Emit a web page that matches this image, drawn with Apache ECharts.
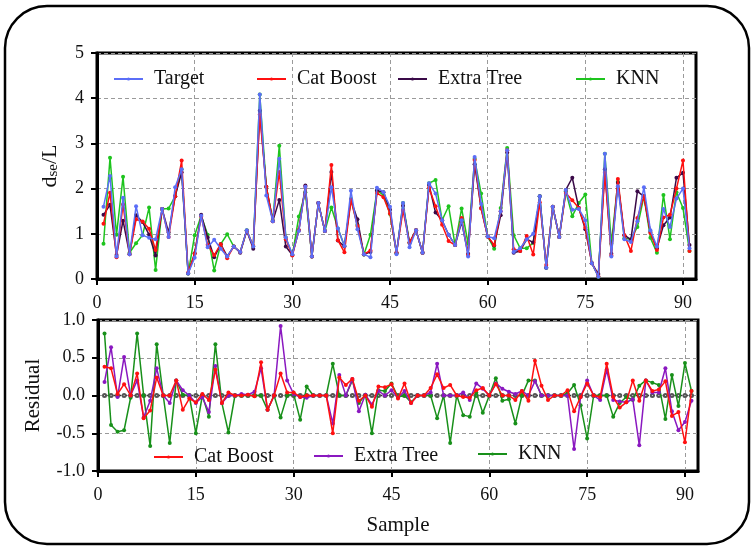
<!DOCTYPE html>
<html><head><meta charset="utf-8">
<script src="https://cdn.jsdelivr.net/npm/echarts@6/dist/echarts.min.js"></script>
<style>html,body{margin:0;padding:0;background:#fff}#c{width:751px;height:547px}</style>
</head><body><div id="c"></div>
<script>
const samples = [1,2,3,4,5,6,7,8,9,10,11,12,13,14,15,16,17,18,19,20,21,22,23,24,25,26,27,28,29,30,31,32,33,34,35,36,37,38,39,40,41,42,43,44,45,46,47,48,49,50,51,52,53,54,55,56,57,58,59,60,61,62,63,64,65,66,67,68,69,70,71,72,73,74,75,76,77,78,79,80,81,82,83,84,85,86,87,88,89,90,91];
const xTicks = [0,15,30,45,60,75,90];
const target = [1.60,2.28,0.50,1.80,0.55,1.61,0.97,0.91,0.88,1.55,0.93,2.03,2.43,0.12,0.47,1.40,0.70,0.87,0.67,0.50,0.72,0.60,1.08,0.72,4.08,1.85,1.28,2.66,0.92,0.55,1.06,2.04,0.50,1.68,1.06,2.03,1.12,0.73,1.95,1.10,0.55,0.48,2.02,1.92,1.60,0.55,1.68,0.70,1.08,0.58,2.12,1.89,1.30,0.98,0.75,1.30,0.50,2.70,1.66,0.94,0.90,1.50,2.85,0.60,0.68,0.88,1.00,1.83,0.25,1.60,0.93,1.97,1.53,1.55,1.30,0.35,0.05,2.77,0.50,2.05,0.88,0.82,1.28,2.03,1.08,0.72,1.55,1.15,1.78,2.00,0.68];
const catBoost = [1.22,1.91,0.48,1.65,0.55,1.32,1.27,1.11,0.64,1.55,0.93,1.83,2.62,0.14,0.56,1.38,0.76,0.53,0.77,0.46,0.72,0.60,1.07,0.73,3.64,2.04,1.28,2.37,0.88,0.52,1.08,2.04,0.50,1.68,1.06,2.52,0.86,0.59,1.75,1.17,0.55,0.63,1.90,1.81,1.45,0.58,1.52,0.80,1.08,0.58,2.02,1.61,1.20,0.84,0.75,1.35,0.53,2.63,1.56,0.94,0.75,1.50,2.85,0.66,0.62,0.95,0.54,1.70,0.31,1.60,0.93,1.90,1.74,1.57,1.14,0.35,0.06,2.35,0.52,2.21,0.97,0.62,1.35,1.83,1.02,0.64,1.36,1.42,2.00,2.62,0.62];
const extraTree = [1.42,1.64,0.53,1.29,0.55,1.41,1.26,0.98,0.52,1.55,1.03,1.83,2.36,0.12,0.57,1.42,0.92,0.48,0.77,0.50,0.72,0.58,1.07,0.67,3.72,2.04,1.28,1.75,0.72,0.53,1.08,2.07,0.50,1.68,1.06,2.37,0.85,0.72,1.75,1.32,0.54,0.60,1.96,1.92,1.53,0.58,1.62,0.80,1.08,0.58,2.08,1.47,1.30,0.98,0.75,1.26,0.56,2.54,1.57,0.94,0.74,1.41,2.80,0.58,0.62,0.88,0.81,1.83,0.25,1.60,0.93,1.97,2.24,1.57,1.10,0.35,0.11,2.43,0.56,2.13,0.97,0.87,1.94,1.83,1.04,0.68,1.19,1.36,2.24,2.35,0.75];
const knn = [0.78,2.68,0.98,2.26,0.58,0.79,0.97,1.58,0.20,1.55,1.56,1.83,2.43,0.12,0.97,1.40,0.98,0.19,0.77,0.99,0.72,0.60,1.08,0.72,4.08,2.04,1.30,2.95,0.92,0.53,1.38,1.92,0.50,1.68,1.06,1.58,1.12,0.73,1.77,1.20,0.54,0.98,1.95,1.86,1.44,0.57,1.68,0.80,1.08,0.58,2.12,2.19,1.30,1.61,0.75,1.56,0.78,2.66,1.89,0.94,0.67,1.57,2.90,0.97,0.68,0.68,0.80,1.83,0.25,1.60,0.93,1.94,1.39,1.68,1.87,0.35,0.05,2.77,0.78,2.15,0.90,0.88,1.15,1.83,0.91,0.58,1.86,0.88,1.92,1.57,0.62];
const resCat = [0.38,0.36,0.02,0.15,0.00,0.29,-0.30,-0.20,0.24,0.00,0.00,0.20,-0.19,-0.04,-0.09,0.02,-0.06,0.34,-0.10,0.04,0.00,0.00,0.01,-0.01,0.44,-0.19,0.00,0.29,0.04,0.04,-0.02,0.00,0.00,0.00,0.00,-0.50,0.24,0.14,0.22,-0.07,0.00,-0.15,0.12,0.11,0.15,-0.04,0.16,-0.10,0.00,0.00,0.10,0.28,0.10,0.14,0.00,-0.02,-0.03,0.07,0.10,0.00,0.15,0.00,0.00,-0.06,0.06,-0.07,0.46,0.13,-0.06,0.00,0.00,0.07,-0.21,-0.02,0.16,0.00,-0.02,0.42,-0.02,-0.16,-0.09,0.20,-0.07,0.20,0.06,0.08,0.19,-0.27,-0.22,-0.62,0.06];
const resExtra = [0.18,0.64,-0.02,0.51,0.00,0.20,-0.29,-0.07,0.36,0.00,-0.10,0.20,0.07,0.00,-0.10,-0.02,-0.22,0.39,-0.10,0.00,0.00,0.02,0.01,0.05,0.36,-0.19,0.00,0.92,0.20,0.02,-0.02,-0.03,0.00,0.00,0.00,-0.37,0.27,0.00,0.22,-0.21,0.01,-0.12,0.06,0.00,0.07,-0.03,0.06,-0.10,0.00,0.00,0.04,0.42,0.00,0.00,0.00,0.04,-0.06,0.16,0.09,0.00,0.16,0.09,0.05,0.02,0.06,0.00,0.19,0.00,0.00,0.00,0.00,0.00,-0.71,-0.02,0.20,0.00,-0.06,0.34,-0.06,-0.08,-0.09,-0.05,-0.66,0.20,0.04,0.04,0.36,-0.21,-0.46,-0.35,-0.07];
const resKnn = [0.82,-0.39,-0.48,-0.46,-0.03,0.82,0.00,-0.67,0.68,0.00,-0.63,0.20,0.01,0.00,-0.50,0.00,-0.28,0.68,-0.10,-0.49,0.00,0.00,0.00,0.00,0.00,-0.19,0.00,-0.29,0.00,0.02,-0.32,0.12,0.00,0.00,0.00,0.42,0.00,0.00,0.20,-0.10,0.01,-0.50,0.07,0.06,0.16,-0.02,0.00,-0.09,0.00,0.00,0.00,-0.30,0.00,-0.63,0.00,-0.26,-0.28,0.04,-0.23,0.00,0.23,-0.07,-0.05,-0.37,0.00,0.20,0.20,0.00,0.00,0.00,0.00,0.03,0.14,-0.13,-0.57,0.00,0.00,0.00,-0.28,-0.10,-0.02,-0.06,0.13,0.20,0.17,0.14,-0.31,0.27,-0.14,0.43,0.06];
const zeroRef = [0,0,0,0,0,0,0,0,0,0,0,0,0,0,0,0,0,0,0,0,0,0,0,0,0,0,0,0,0,0,0,0,0,0,0,0,0,0,0,0,0,0,0,0,0,0,0,0,0,0,0,0,0,0,0,0,0,0,0,0,0,0,0,0,0,0,0,0,0,0,0,0,0,0,0,0,0,0,0,0,0,0,0,0,0,0,0,0,0,0,0];

const pairs = vals => samples.map((s, i) => [s, vals[i]]);
const FONT = 'Liberation Serif';
const C = {target:'#5b6ef7', cat:'#ff1010', extra:'#3a0a48', knn:'#1ec41e', extra2:'#8a18c0', knn2:'#18901a'};
const legendNames = {t:'Target', c:'Cat Boost', e:'Extra Tree', k:'KNN', rc:'Cat Boost', re:'Extra Tree', rk:'KNN'};

function lineSeries(id, data, color, xi, z) {
  return {name:id, type:'line', xAxisIndex:xi, yAxisIndex:xi, data:pairs(data), symbol:'circle', symbolSize:4,
    lineStyle:{color:color, width:1.5}, itemStyle:{color:color}, z:z, emphasis:{disabled:true}};
}
function legendAt(id, left, top) {
  return {data:[id], left:left, top:top, itemWidth:29, itemHeight:4, selectedMode:false,
    formatter: n => legendNames[n], textStyle:{fontFamily:FONT, fontSize:20, color:'#111', padding:[0,0,0,6]}};
}
const axisCommon = {
  axisLine:{show:true, onZero:false, lineStyle:{color:'#000', width:3}},
  axisTick:{show:true, inside:false, length:6, lineStyle:{color:'#000', width:2}},
  axisLabel:{fontFamily:FONT, fontSize:18, color:'#111', margin:13},
  splitLine:{show:true, lineStyle:{color:'#9a9a9a', type:[4,3], width:1}}
};
function xAx(gi) {
  return Object.assign({}, axisCommon, {type:'value', gridIndex:gi, min:0, max:92, interval:15,
    axisTick:Object.assign({}, axisCommon.axisTick, {customValues:xTicks}),
    axisLabel:Object.assign({}, axisCommon.axisLabel, {customValues:xTicks, margin:gi === 0 ? 15 : 15}),
    name: gi === 1 ? 'Sample' : '', nameLocation:'middle', nameGap:44,
    nameTextStyle:{fontFamily:FONT, fontSize:21, color:'#111'}});
}
const chart = echarts.init(document.getElementById('c'), null, {renderer:'canvas'});
chart.setOption({
  animation:false,
  backgroundColor:'#fff',
  graphic:[{type:'rect', shape:{x:5, y:6, width:744, height:538, r:42}, style:{fill:'none', stroke:'#000', lineWidth:2.5}, z:-10}],
  grid:[
    {left:97, top:53, width:599, height:226, show:true, borderColor:'#000', borderWidth:3, backgroundColor:'transparent'},
    {left:98, top:320, width:600, height:151, show:true, borderColor:'#000', borderWidth:3, backgroundColor:'transparent'}
  ],
  xAxis:[xAx(0), xAx(1)],
  yAxis:[
    Object.assign({}, axisCommon, {type:'value', gridIndex:0, min:0, max:5, interval:1,
      name:'d{s|se}/L', nameLocation:'middle', nameGap:36, nameRotate:90,
      nameTextStyle:{fontFamily:FONT, fontSize:22, color:'#111', rich:{s:{fontFamily:FONT, fontSize:15, color:'#111', verticalAlign:'bottom', padding:[0,0,0,0]}}}}),
    Object.assign({}, axisCommon, {type:'value', gridIndex:1, min:-1, max:1, interval:0.5,
      axisLabel:Object.assign({}, axisCommon.axisLabel, {formatter: v => v.toFixed(1)}),
      name:'Residual', nameLocation:'middle', nameGap:54, nameRotate:90,
      nameTextStyle:{fontFamily:FONT, fontSize:21, color:'#111'}})
  ],
  legend:[
    legendAt('t', 108, 64), legendAt('c', 251, 64), legendAt('e', 392, 64), legendAt('k', 570, 64),
    legendAt('rc', 148, 442), legendAt('re', 308, 441), legendAt('rk', 472, 439)
  ],
  series:[
    lineSeries('k', knn, C.knn, 0, 2),
    lineSeries('e', extraTree, C.extra, 0, 3),
    lineSeries('c', catBoost, C.cat, 0, 4),
    lineSeries('t', target, C.target, 0, 5),
    {name:'zero', type:'line', xAxisIndex:1, yAxisIndex:1, data:pairs(zeroRef), symbol:'emptyCircle', symbolSize:3,
      lineStyle:{color:'#333', width:1.5, type:'dotted'}, itemStyle:{color:'#555', borderWidth:0.8}, z:1, emphasis:{disabled:true}},
    lineSeries('rk', resKnn, C.knn2, 1, 2),
    lineSeries('re', resExtra, C.extra2, 1, 3),
    lineSeries('rc', resCat, C.cat, 1, 4)
  ]
});
</script></body></html>
